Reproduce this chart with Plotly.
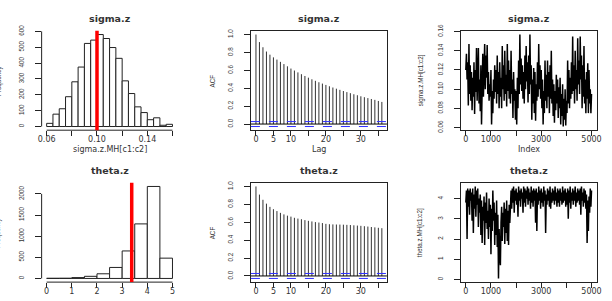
import numpy as np
import plotly.graph_objects as go

# ---------------- data ----------------
sigma_edges = [round(0.06 + 0.005 * i, 3) for i in range(21)]
sigma_counts = [20, 78, 112, 188, 282, 375, 524, 545, 580, 555,
                498, 430, 288, 208, 124, 88, 43, 55, 8, 14]
sigma_true = 0.10

theta_edges = [0.0, 0.5, 1.0, 1.5, 2.0, 2.5, 3.0, 3.5, 4.0, 4.5, 5.0]
theta_counts = [4, 5, 20, 50, 110, 260, 650, 1290, 2175, 480]
theta_true = 3.38

acf_lags = list(range(37))
sigma_acf = [1.0, 0.916, 0.858, 0.81, 0.775, 0.745, 0.72, 0.695, 0.67, 0.645,
             0.62, 0.598, 0.577, 0.557, 0.537, 0.518, 0.50, 0.483, 0.467, 0.452,
             0.437, 0.422, 0.408, 0.395, 0.382, 0.369, 0.357, 0.345, 0.333, 0.322,
             0.31, 0.30, 0.29, 0.28, 0.27, 0.258, 0.247]
theta_acf = [1.0, 0.909, 0.851, 0.808, 0.772, 0.746, 0.725, 0.705, 0.688, 0.674,
             0.663, 0.65, 0.641, 0.634, 0.624, 0.616, 0.609, 0.602, 0.597, 0.591,
             0.582, 0.578, 0.576, 0.575, 0.574, 0.573, 0.571, 0.569, 0.566, 0.563,
             0.56, 0.556, 0.552, 0.547, 0.543, 0.538, 0.534]
n_samples = 5000

trace_index = list(range(0, 5001, 25))
sigma_trace = [
    0.120, 0.137, 0.110, 0.128, 0.083, 0.147, 0.095, 0.125, 0.088, 0.118,
    0.078, 0.112, 0.092, 0.128, 0.074, 0.120, 0.097, 0.143, 0.088, 0.115,
    0.143, 0.085, 0.110, 0.077, 0.125, 0.063, 0.105, 0.137, 0.092, 0.120,
    0.147, 0.100, 0.135, 0.112, 0.146, 0.095, 0.118, 0.088, 0.105, 0.092,
    0.120, 0.063, 0.098, 0.075, 0.110, 0.090, 0.125, 0.097, 0.120, 0.085,
    0.135, 0.095, 0.118, 0.080, 0.128, 0.092, 0.112, 0.080, 0.145, 0.100,
    0.125, 0.088, 0.140, 0.095, 0.115, 0.082, 0.147, 0.098, 0.130, 0.090,
    0.120, 0.085, 0.140, 0.095, 0.110, 0.070, 0.118, 0.088, 0.100, 0.068,
    0.098, 0.063, 0.112, 0.080, 0.130, 0.095, 0.157, 0.105, 0.132, 0.098,
    0.125, 0.090, 0.118, 0.085, 0.135, 0.100, 0.145, 0.108, 0.128, 0.086,
    0.135, 0.095, 0.157, 0.105, 0.125, 0.068, 0.110, 0.085, 0.122, 0.075,
    0.118, 0.067, 0.105, 0.088, 0.128, 0.092, 0.147, 0.100, 0.125, 0.090,
    0.120, 0.080, 0.110, 0.063, 0.098, 0.075, 0.130, 0.088, 0.115, 0.080,
    0.130, 0.092, 0.118, 0.075, 0.125, 0.090, 0.140, 0.085, 0.110, 0.072,
    0.105, 0.065, 0.098, 0.078, 0.115, 0.085, 0.110, 0.070, 0.102, 0.080,
    0.112, 0.063, 0.095, 0.072, 0.105, 0.061, 0.090, 0.068, 0.100, 0.062,
    0.088, 0.075, 0.130, 0.085, 0.120, 0.080, 0.112, 0.090, 0.128, 0.095,
    0.155, 0.098, 0.125, 0.085, 0.140, 0.100, 0.120, 0.088, 0.153, 0.105,
    0.130, 0.095, 0.155, 0.110, 0.135, 0.080, 0.125, 0.092, 0.145, 0.085,
    0.110, 0.075, 0.118, 0.090, 0.127, 0.075, 0.120, 0.085, 0.100, 0.075,
    0.095]
theta_trace = [
    3.8, 4.4, 2.0, 4.5, 3.6, 4.4, 3.2, 4.5, 3.9, 4.3,
    2.9, 4.5, 2.3, 4.2, 3.5, 4.6, 3.1, 4.4, 3.7, 4.5,
    2.6, 4.0, 3.3, 4.2, 2.2, 3.9, 1.8, 3.6, 2.9, 4.1,
    1.7, 3.8, 2.8, 4.3, 2.5, 3.4, 2.0, 4.0, 2.6, 3.7,
    1.25, 3.5, 2.4, 4.4, 2.9, 3.8, 1.7, 3.3, 2.2, 3.9,
    1.6, 3.2, 0.05, 2.5, 1.2, 0.7, 2.8, 3.6, 1.9, 3.3,
    2.6, 3.8, 1.75, 3.5, 2.3, 3.9, 1.9, 3.4, 1.7, 3.7,
    2.8, 3.6, 4.4, 3.5, 4.5, 3.8, 4.6, 3.3, 4.4, 3.9,
    4.5, 3.7, 4.3, 3.1, 4.6, 3.9, 4.4, 3.6, 4.5, 4.0,
    4.3, 3.3, 4.6, 3.8, 4.5, 3.6, 4.4, 4.0, 4.6, 3.7,
    4.5, 3.9, 4.3, 3.5, 4.6, 3.8, 4.4, 3.6, 4.5, 3.9,
    4.4, 2.8, 4.5, 2.4, 4.3, 3.7, 4.6, 3.9, 4.4, 3.5,
    4.5, 3.8, 4.3, 3.6, 4.6, 3.9, 4.4, 2.3, 4.2, 3.7,
    4.5, 3.9, 4.4, 3.6, 4.6, 3.5, 4.3, 3.8, 4.5, 3.9,
    4.4, 3.7, 4.6, 3.9, 4.3, 3.6, 4.5, 3.8, 4.4, 3.6,
    4.5, 3.9, 4.3, 3.7, 4.6, 3.8, 4.4, 3.9, 4.5, 3.6,
    4.3, 3.7, 4.5, 3.0, 4.4, 3.8, 4.6, 3.5, 4.3, 3.9,
    4.5, 3.7, 4.4, 3.9, 4.6, 3.6, 4.3, 3.8, 4.5, 3.9,
    4.4, 3.7, 4.5, 3.2, 4.6, 3.9, 4.3, 3.6, 4.5, 3.8,
    4.4, 3.5, 4.2, 1.8, 3.9, 2.4, 4.1, 3.3, 4.5, 3.6,
    4.4]

titles = ["sigma.z", "sigma.z", "sigma.z", "theta.z", "theta.z", "theta.z"]
xlabels = ["sigma.z.MH[c1:c2]", "Lag", "Index"]
ylabels = ["Frequency", "ACF", "sigma.z.MH[c1:c2]",
           "Frequency", "ACF", "theta.z.MH[c1:c2]"]

# tick definitions
hist1_xt = [0.06, 0.08, 0.10, 0.12, 0.14, 0.16]
hist1_xl = ["0.06", "", "0.10", "", "0.14", ""]
hist1_yt = [0, 100, 200, 300, 400, 500, 600]
acf_xt = [0, 5, 10, 15, 20, 25, 30, 35]
acf_xl = ["0", "5", "10", "", "20", "", "30", ""]
acf_yt = [0.0, 0.2, 0.4, 0.6, 0.8, 1.0]
acf_yl = ["0.0", "0.2", "0.4", "0.6", "0.8", "1.0"]
idx_xt = [0, 1000, 2000, 3000, 4000, 5000]
idx_xl = ["0", "1000", "", "3000", "", "5000"]
tr1_yt = [0.06, 0.08, 0.10, 0.12, 0.14, 0.16]
tr1_yl = ["0.06", "0.08", "0.10", "0.12", "0.14", "0.16"]
hist2_xt = [0, 1, 2, 3, 4, 5]
hist2_yt = [0, 500, 1000, 1500, 2000]
tr2_yt = [0, 1, 2, 3, 4]

# ---------------- layout geometry (pixels) ----------------
W, H = 612, 301
cols = [(38.2, 176.1), (250.6, 388.6), (463.6, 601.4)]
rows = [(24.6, 127.0), (181.2, 283.6)]


def fx(p):
    return p / W


def fy(p):
    return 1 - p / H


def ext(lo, hi):
    r = hi - lo
    return [lo - 0.04 * r, hi + 0.04 * r]


HFONT = dict(family="DejaVu Sans", size=8, color="#333")
VFONT = dict(family="Liberation Sans Narrow, Liberation Sans", size=6.3, color="#333")

fig = go.Figure()
layout = dict(width=W, height=H, margin=dict(l=0, r=0, t=0, b=0),
              paper_bgcolor="white", plot_bgcolor="white", showlegend=False,
              shapes=[], annotations=[])


def set_axes(i, xr, yr, xt, xl, yt, yl, box):
    r, c = (i - 1) // 3, (i - 1) % 3
    sx = "" if i == 1 else str(i)
    common = dict(showgrid=False, zeroline=False, ticks="outside", tickwidth=1,
                  tickcolor="#222", showline=box, mirror=box,
                  linecolor="#222", linewidth=1)
    layout["xaxis" + sx] = dict(domain=[fx(cols[c][0]), fx(cols[c][1])],
                                anchor="y" + sx, range=xr, tickmode="array",
                                tickvals=xt, ticktext=xl, ticklen=5,
                                ticklabelstandoff=-4,
                                tickfont=HFONT, **common)
    layout["yaxis" + sx] = dict(domain=[fy(rows[r][1]), fy(rows[r][0])],
                                anchor="x" + sx, range=yr, tickmode="array",
                                tickvals=yt, ticktext=yl, ticklen=6,
                                ticklabelstandoff=8,
                                tickangle=-90, tickfont=VFONT, **common)


def hist_panel(i, edges, counts, xt, xl, yt, true_val):
    sx = "" if i == 1 else str(i)
    e = np.array(edges, dtype=float)
    centers = (e[:-1] + e[1:]) / 2
    widths = e[1:] - e[:-1]
    fig.add_trace(go.Bar(x=centers, y=counts, width=widths,
                         marker=dict(color="white", line=dict(color="#222", width=1)),
                         xaxis="x" + sx, yaxis="y" + sx))
    set_axes(i, ext(e[0], e[-1]), ext(0, max(counts)), xt, xl, yt,
             [str(v) for v in yt], False)
    layout["shapes"] += [
        dict(type="line", xref="x" + sx, yref="y" + sx + " domain",
             x0=xt[0], x1=xt[-1], y0=0, y1=0, line=dict(color="#222", width=1)),
        dict(type="line", xref="x" + sx + " domain", yref="y" + sx,
             x0=0, x1=0, y0=yt[0], y1=yt[-1], line=dict(color="#222", width=1)),
        dict(type="line", xref="x" + sx, yref="y" + sx + " domain",
             x0=true_val, x1=true_val, y0=0, y1=1,
             line=dict(color="#ff0000", width=3.5)),
    ]


def acf_panel(i, lags, acf):
    sx = str(i)
    xs, ys = [], []
    for k, a in zip(lags, acf):
        xs += [k, k, None]
        ys += [0, a, None]
    fig.add_trace(go.Scatter(x=xs, y=ys, mode="lines",
                             line=dict(color="#333", width=1),
                             xaxis="x" + sx, yaxis="y" + sx))
    ci = 1.96 / np.sqrt(n_samples)
    set_axes(i, ext(lags[0], lags[-1]), ext(-ci, max(acf)), acf_xt, acf_xl,
             acf_yt, acf_yl, True)
    layout["shapes"] += [
        dict(type="line", xref="x" + sx + " domain", yref="y" + sx,
             x0=0, x1=1, y0=0, y1=0, line=dict(color="black", width=1)),
        dict(type="line", xref="x" + sx + " domain", yref="y" + sx,
             x0=0, x1=1, y0=ci, y1=ci, line=dict(color="#3030ff", width=1, dash="dash")),
        dict(type="line", xref="x" + sx + " domain", yref="y" + sx,
             x0=0, x1=1, y0=-ci, y1=-ci, line=dict(color="#3030ff", width=1, dash="dash")),
    ]


def trace_panel(i, idx, vals, yt, yl):
    sx = str(i)
    fig.add_trace(go.Scatter(x=idx, y=vals, mode="lines",
                             line=dict(color="black", width=1.5),
                             xaxis="x" + sx, yaxis="y" + sx))
    set_axes(i, ext(0, n_samples), ext(min(vals), max(vals)), idx_xt, idx_xl,
             yt, yl, True)


hist_panel(1, sigma_edges, sigma_counts, hist1_xt, hist1_xl, hist1_yt, sigma_true)
acf_panel(2, acf_lags, sigma_acf)
trace_panel(3, trace_index, sigma_trace, tr1_yt, tr1_yl)
hist_panel(4, theta_edges, theta_counts, hist2_xt, [str(v) for v in hist2_xt],
           hist2_yt, theta_true)
acf_panel(5, acf_lags, theta_acf)
trace_panel(6, trace_index, theta_trace, tr2_yt, [str(v) for v in tr2_yt])

# titles and axis labels
ylab_x = [-5.5, 212, 423]
for i in range(1, 7):
    r, c = (i - 1) // 3, (i - 1) % 3
    cx = (cols[c][0] + cols[c][1]) / 2
    cy = (rows[r][0] + rows[r][1]) / 2
    layout["annotations"].append(dict(
        text="<b>" + titles[i - 1] + "</b>", x=fx(cx), y=fy(rows[r][0] - 12.5),
        xref="paper", yref="paper", showarrow=False, xanchor="center",
        yanchor="middle", font=dict(family="DejaVu Sans", size=9.5, color="#333")))
    layout["annotations"].append(dict(
        text=ylabels[i - 1], x=fx(ylab_x[c]), y=fy(cy), xref="paper", yref="paper",
        showarrow=False, textangle=-90, xanchor="center", yanchor="middle",
        font=VFONT))
for c in range(3):
    cx = (cols[c][0] + cols[c][1]) / 2
    layout["annotations"].append(dict(
        text=xlabels[c], x=fx(cx), y=fy(147), xref="paper", yref="paper",
        showarrow=False, xanchor="center", yanchor="middle", font=HFONT))

fig.update_layout(**layout)
fig.write_html("out.html")
